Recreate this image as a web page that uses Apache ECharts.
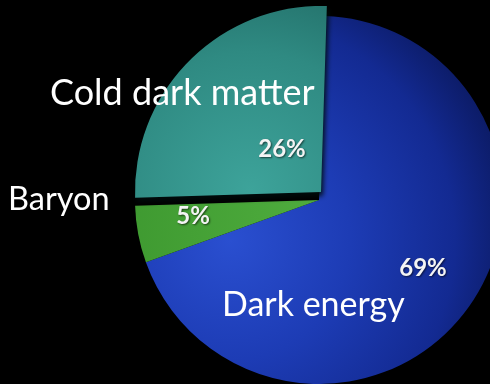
<!DOCTYPE html>
<html>
<head>
<meta charset="utf-8">
<script src="https://cdn.jsdelivr.net/npm/echarts@6/dist/echarts.min.js"></script>
<style>
  html, body { margin: 0; padding: 0; background: #000; }
  #chart { width: 490px; height: 384px; }
</style>
</head>
<body>
<div id="chart"></div>
<script>
// Composition of the universe
const categories = ['Dark energy', 'Baryon', 'Cold dark matter'];
const values = [69, 5, 26];

const chart = echarts.init(document.getElementById('chart'), null, { renderer: 'canvas' });

const CENTER = [319, 200];
const RADIUS = 184;
const CDM_CENTER = [321, 192];
const CDM_RADIUS = 186;
const START = 88.2;

const fills = [
  { type: 'radial', x: 230, y: 240, r: 300, global: true,
    colorStops: [
      { offset: 0, color: '#2a4fd0' },
      { offset: 0.4, color: '#1d3cb5' },
      { offset: 0.75, color: '#132a92' },
      { offset: 1, color: '#0a175a' }
    ] },
  { type: 'linear', x: 130, y: 200, x2: 320, y2: 200, global: true,
    colorStops: [
      { offset: 0, color: '#3f9a31' },
      { offset: 1, color: '#4fad3e' }
    ] },
  { type: 'radial', x: 250, y: 190, r: 230, global: true,
    colorStops: [
      { offset: 0, color: '#3da39a' },
      { offset: 0.6, color: '#2f8a82' },
      { offset: 1, color: '#216c66' }
    ] }
];

const CLEAR = 'rgba(0,0,0,0)';

// Main disc: dark energy and baryons; the cold dark matter wedge is pulled out separately
const baseData = categories.map((name, i) => ({
  name,
  value: values[i],
  itemStyle: { color: i === 2 ? CLEAR : fills[i] }
}));

const cdmData = categories.map((name, i) => ({
  name,
  value: values[i],
  itemStyle: i === 2
    ? { color: fills[2], shadowColor: 'rgba(0,12,12,0.9)', shadowBlur: 5, shadowOffsetY: 4, shadowOffsetX: 2 }
    : { color: CLEAR }
}));

// left edge / vertical middle of each category name, and its size
const nameLabels = [
  { x: 222, y: 305, size: 34, i: 0 },
  { x: 8, y: 200, size: 32.5, i: 1 },
  { x: 50, y: 93, size: 36, i: 2 }
];
const pctLabels = [
  { x: 423, y: 268, i: 0 },
  { x: 193, y: 216, i: 1 },
  { x: 282, y: 149, i: 2 }
];

const graphics = [];
nameLabels.forEach(p => graphics.push({
  type: 'text', x: p.x, y: p.y, z: 100,
  style: { text: categories[p.i], font: p.size + 'px Lato', fill: '#ffffff',
           textAlign: 'left', textVerticalAlign: 'middle' }
}));
pctLabels.forEach(p => graphics.push({
  type: 'text', x: p.x, y: p.y, z: 100,
  style: { text: values[p.i] + '%', font: 'bold 24px Lato', fill: '#f4f4f4',
           textAlign: 'center', textVerticalAlign: 'middle',
           textShadowColor: 'rgba(0,0,0,0.6)', textShadowBlur: 2, textShadowOffsetX: 1, textShadowOffsetY: 1 }
}));

chart.setOption({
  backgroundColor: '#000000',
  animation: false,
  series: [
    {
      type: 'pie',
      center: CENTER,
      radius: RADIUS,
      startAngle: START,
      clockwise: true,
      label: { show: false },
      labelLine: { show: false },
      silent: true,
      data: baseData
    },
    {
      type: 'pie',
      center: CDM_CENTER,
      radius: CDM_RADIUS,
      startAngle: START,
      clockwise: true,
      label: { show: false },
      labelLine: { show: false },
      silent: true,
      data: cdmData
    }
  ],
  graphic: graphics
});
</script>
</body>
</html>
